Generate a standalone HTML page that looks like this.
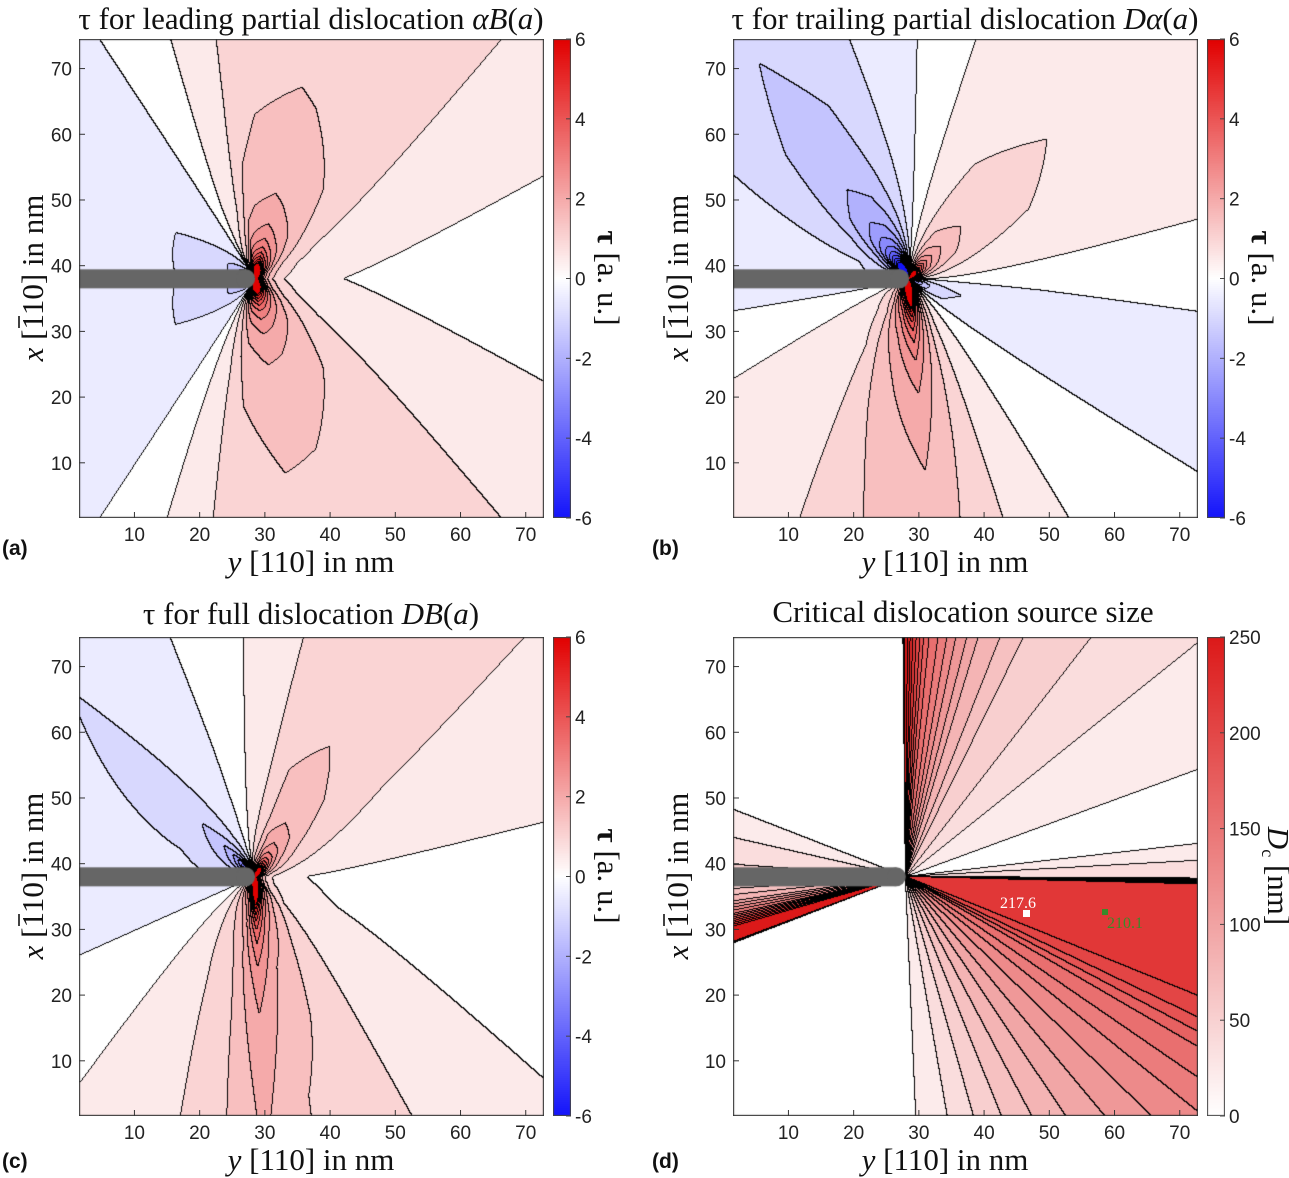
<!DOCTYPE html>
<html><head><meta charset="utf-8">
<style>
html,body{margin:0;padding:0;background:#fff;}
#root{position:relative;width:1289px;height:1178px;overflow:hidden;background:#fff;}
canvas{position:absolute;}
svg{position:absolute;left:0;top:0;}
.tk{font-family:"Liberation Sans",sans-serif;font-size:19px;fill:#222;}
.lab{font-family:"Liberation Serif",serif;font-size:31px;fill:#111;}
.pl{font-family:"Liberation Sans",sans-serif;font-size:21px;font-weight:bold;fill:#111;}
</style></head><body>
<div id="root">
<canvas id="ca" width="465" height="479" style="left:79px;top:39px"></canvas>
<canvas id="cb" width="465" height="479" style="left:733px;top:39px"></canvas>
<canvas id="cc" width="465" height="479" style="left:79px;top:637px"></canvas>
<canvas id="cd" width="465" height="479" style="left:733px;top:637px"></canvas>
<canvas id="bar1" width="18" height="479" style="left:553px;top:39px"></canvas>
<canvas id="bar2" width="18" height="479" style="left:1207px;top:39px"></canvas>
<canvas id="bar3" width="18" height="479" style="left:553px;top:637px"></canvas>
<canvas id="bar4" width="18" height="479" style="left:1207px;top:637px"></canvas>
<svg id="ov" width="1289" height="1178">
<g>
<text class="lab" x="311" y="29" text-anchor="middle">τ for leading partial dislocation <tspan font-style="italic">αB</tspan>(<tspan font-style="italic">a</tspan>)</text>
<text class="lab" x="311" y="572" text-anchor="middle"><tspan font-style="italic">y</tspan> [110] in nm</text>
<g transform="translate(43,278) rotate(-90)">
<text class="lab" x="0" y="0" text-anchor="middle"><tspan font-style="italic">x</tspan> [110] in nm</text>
<line x1="-50" x2="-38" y1="-24" y2="-24" stroke="#111" stroke-width="1.6"/></g>
<text class="lab" transform="translate(598,278) rotate(90)" text-anchor="middle"><tspan font-weight="bold">τ</tspan> [a. u.]</text>
<text class="pl" x="2" y="555">(a)</text>
</g>
<g>
<text class="lab" x="965" y="29" text-anchor="middle">τ for trailing partial dislocation <tspan font-style="italic">Dα</tspan>(<tspan font-style="italic">a</tspan>)</text>
<text class="lab" x="945" y="572" text-anchor="middle"><tspan font-style="italic">y</tspan> [110] in nm</text>
<g transform="translate(688,278) rotate(-90)">
<text class="lab" x="0" y="0" text-anchor="middle"><tspan font-style="italic">x</tspan> [110] in nm</text>
<line x1="-50" x2="-38" y1="-24" y2="-24" stroke="#111" stroke-width="1.6"/></g>
<text class="lab" transform="translate(1252,278) rotate(90)" text-anchor="middle"><tspan font-weight="bold">τ</tspan> [a. u.]</text>
<text class="pl" x="652" y="555">(b)</text>
</g>
<g>
<text class="lab" x="311" y="624" text-anchor="middle">τ for full dislocation <tspan font-style="italic">DB</tspan>(<tspan font-style="italic">a</tspan>)</text>
<text class="lab" x="311" y="1170" text-anchor="middle"><tspan font-style="italic">y</tspan> [110] in nm</text>
<g transform="translate(43,876) rotate(-90)">
<text class="lab" x="0" y="0" text-anchor="middle"><tspan font-style="italic">x</tspan> [110] in nm</text>
<line x1="-50" x2="-38" y1="-24" y2="-24" stroke="#111" stroke-width="1.6"/></g>
<text class="lab" transform="translate(598,876) rotate(90)" text-anchor="middle"><tspan font-weight="bold">τ</tspan> [a. u.]</text>
<text class="pl" x="2" y="1168">(c)</text>
</g>
<g>
<text class="lab" x="963" y="622" text-anchor="middle">Critical dislocation source size</text>
<text class="lab" x="945" y="1170" text-anchor="middle"><tspan font-style="italic">y</tspan> [110] in nm</text>
<g transform="translate(688,876) rotate(-90)">
<text class="lab" x="0" y="0" text-anchor="middle"><tspan font-style="italic">x</tspan> [110] in nm</text>
<line x1="-50" x2="-38" y1="-24" y2="-24" stroke="#111" stroke-width="1.6"/></g>
<text class="lab" transform="translate(1268,876) rotate(90)" text-anchor="middle"><tspan font-style="italic">D</tspan><tspan font-size="18" dy="6">c</tspan><tspan dy="-6"> [nm]</tspan></text>
<text class="pl" x="652" y="1168">(d)</text>
</g>
<g id="axesg"></g>
<g>
<rect x="1023" y="910" width="7" height="7" fill="#fff"/>
<text x="1000" y="908" font-family="Liberation Serif,serif" font-size="16" fill="#fff">217.6</text>
<rect x="1102" y="909" width="6" height="6" fill="#3a8a2a"/>
<text x="1107" y="928" font-family="Liberation Serif,serif" font-size="16" fill="#3a8a2a">210.1</text>
</g>
</svg>
</div>
<script>
// ---- data arrays: angle (deg, from crack tip), far-field level and near-tip amplitude ----
const angA = [-180,-150,-124,-115,-105,-100,-95,-81,-70,-52,-30,-20,0,20,30,52,70,76,90,96,100,105,115,124,150,180];
const farA = [-0.5,-0.5,-0.26,0,0.26,0.5,0.74,0.85,0.85,0.78,0.35,0.17,0,0.17,0.35,0.78,0.85,0.85,0.85,0.74,0.5,0.26,0,-0.26,-0.5,-0.5];
const nearA= [-0.3,-0.35,-0.1,0.3,0.7,0.9,1.0,1.2,1.1,0.8,0.45,0.4,0.34,0.4,0.45,0.8,1.1,1.2,1.0,0.9,0.7,0.5,0.3,-0.1,-0.35,-0.3];
const angB = [-180,-171,-160,-148,-135,-123,-116,-108,-100,-85,-74,-67,-60,-45,-31,-18,-5,0,16,30,45,60,70,84,88,93,100,109,115,125,135,145,161,180];
const farB = [-0.4,-0.25,0,0.25,0.15,0.25,0.5,0.75,0.95,1.0,0.75,0.5,0.25,0,-0.25,-0.4,-0.2,0,0.25,0.42,0.45,0.4,0.25,0,-0.2,-0.3,-0.4,-0.6,-0.8,-0.9,-0.8,-0.6,-0.5,-0.4];
const nearB= [-0.2,-0.1,0,0.2,0.4,0.6,0.8,1.0,1.2,2.2,1.2,0.7,0.4,0,-0.3,-0.3,-0.1,0.1,0.4,0.7,0.9,0.7,0.4,0,-0.2,-0.4,-0.8,-1.2,-1.3,-1.4,-1.2,-0.7,-0.2,-0.2];
const angC = [-180,-170,-156,-140,-126,-115,-105,-100,-88,-76,-68,-61,-52,-42,-20,0,14,35,48,55,60,72,75,82,90,100,108,118,135,160,180];
const farC = [-0.45,-0.4,-0.25,0,0.25,0.4,0.6,0.75,1.3,0.9,0.9,0.75,0.5,0.25,0.1,0,0.25,0.5,0.75,0.85,0.9,0.9,0.75,0.5,0.25,0,-0.2,-0.3,-0.55,-0.5,-0.45];
const nearC= [-0.2,-0.1,0,0.2,0.4,0.6,0.8,1.0,2.0,1.2,0.8,0.6,0.5,0.3,0.2,0.2,0.3,0.6,0.8,0.8,0.8,0.6,0.5,0.4,0.3,0.1,-0.1,-0.3,-0.8,-0.3,-0.2];
const angD = [-180,-176,-172,-168,-164,-159.5,-159,-96,-90,-80,-70,-60,-50,-40,-30,-24,-20,-1.5,-0.3,2.5,4.4,8.4,20,32,45,52,63.6,73,78,85,88,89.5,90.2,90.6,152,157,165,172,180];
const valD = [50,60,90,150,255,255,0,0,10,30,55,80,105,130,165,205,215,215,40,35,20,10,15,25,35,45,60,90,120,170,220,255,255,0,0,12,25,40,50];
const xTicks = [10,20,30,40,50,60,70];
const yTicks = [10,20,30,40,50,60,70];
const cbTicksTau = [-6,-4,-2,0,2,4,6];
const cbTicksD = [0,50,100,150,200,250];
const tip = [28.5,38];
const tipD = [28,38];

const X0=1.5,X1=72.8,Y0=1.6,Y1=74.5,W=465,H=479;
const sx=v=>(v-X0)/(X1-X0)*W, sy=v=>(Y1-v)/(Y1-Y0)*H;

function interp(angs,vals,t){
  for(let i=0;i<angs.length-1;i++){
    if(t>=angs[i]&&t<=angs[i+1]){const f=(t-angs[i])/(angs[i+1]-angs[i]||1);return vals[i]+f*(vals[i+1]-vals[i]);}
  }
  return vals[vals.length-1];
}
function tauColor(v){
  const t=Math.max(-1,Math.min(1,v/6));
  if(t>=0) return [255-30*t,255*(1-t),255*(1-t)];
  const s=-t; return [255*(1-s)+20*s,255*(1-s)+20*s,255-5*s];
}
function dColor(v){const t=Math.max(0,Math.min(1,v/250));return [255-35*t,255*(1-t)+25*t,255*(1-t)+25*t];}

function drawField(id,fn,step,off,colorFn,fillFn,cx,cy){
  const cv=document.getElementById(id),ctx=cv.getContext('2d');
  const img=ctx.createImageData(W,H);const band=new Int32Array(W*H);
  for(let py=0;py<H;py++)for(let px=0;px<W;px++){
    const x=X0+(px+0.5)/W*(X1-X0), y=Y1-(py+0.5)/H*(Y1-Y0);
    band[py*W+px]=Math.floor((fn(x,y)+off)/step);
  }
  for(let py=0;py<H;py++)for(let px=0;px<W;px++){
    const i=py*W+px,b=band[i];
    let c=colorFn(fillFn(b));
    if((px<W-1&&band[i+1]!==b)||(py<H-1&&band[i+W]!==b)) c=[0,0,0];
    img.data[i*4]=c[0];img.data[i*4+1]=c[1];img.data[i*4+2]=c[2];img.data[i*4+3]=255;
  }
  ctx.putImageData(img,0,0);
  ctx.fillStyle='#666';
  const bx=sx(cx), by=sy(cy), hh=9.5;
  ctx.fillRect(0,by-hh,bx-hh,2*hh);
  ctx.beginPath();ctx.arc(bx-hh,by,hh,0,Math.PI*2);ctx.fill();
  ctx.strokeStyle='#333';ctx.lineWidth=1.2;ctx.strokeRect(0.5,0.5,W-1,H-1);
}
function tauField(angs,far,near,c){
  return (x,y)=>{const dx=x-c[0],dy=y-c[1];const r=Math.max(0.3,Math.hypot(dx,dy));
    const th=Math.atan2(dy,dx)*180/Math.PI;
    return Math.max(-6,Math.min(6,interp(angs,far,th)+interp(angs,near,th)*(10/r)));};
}
const tauFill=b=>b*0.5;
drawField('ca',tauField(angA,farA,nearA,tip),0.5,0.25,tauColor,tauFill,tip[0],tip[1]);
drawField('cb',tauField(angB,farB,nearB,tip),0.5,0.25,tauColor,tauFill,tip[0],tip[1]);
drawField('cc',tauField(angC,farC,nearC,tip),0.5,0.25,tauColor,tauFill,tip[0],tip[1]);
drawField('cd',(x,y)=>{const th=Math.atan2(y-tipD[1],x-tipD[0])*180/Math.PI;return Math.min(259,interp(angD,valD,th));},15,0.001,dColor,b=>b<=0?0:b*15+7,tipD[0],tipD[1]);

function drawBar(id,fn,lo,hi){
  const cv=document.getElementById(id),ctx=cv.getContext('2d');
  for(let py=0;py<H;py++){const v=hi-(py+0.5)/H*(hi-lo);const c=fn(v);
    ctx.fillStyle='rgb('+c.map(Math.round).join(',')+')';ctx.fillRect(0,py,18,1);}
  ctx.strokeStyle='#444';ctx.lineWidth=1;ctx.strokeRect(0.5,0.5,17,H-1);
}
drawBar('bar1',tauColor,-6,6);drawBar('bar2',tauColor,-6,6);drawBar('bar3',tauColor,-6,6);drawBar('bar4',dColor,0,250);

const NS='http://www.w3.org/2000/svg',g=document.getElementById('axesg');
function el(tag,attrs,txt){const e=document.createElementNS(NS,tag);for(const k in attrs)e.setAttribute(k,attrs[k]);if(txt!==undefined)e.textContent=txt;g.appendChild(e);return e;}
const panels=[[79,39],[733,39],[79,637],[733,637]];
panels.forEach((p,pi)=>{
  const ox=p[0],oy=p[1];
  xTicks.forEach(t=>{
    const x=ox+sx(t);
    const ln=el('line',{x1:x,x2:x,y1:oy+H,y2:oy+H-6,stroke:'#333','stroke-width':1});
    
    
    const tx=el('text',{x:x,y:oy+H+23,'text-anchor':'middle','class':'tk'},String(t));
    
    
  });
  yTicks.forEach(t=>{
    const y=oy+sy(t);
    const ln=el('line',{x1:ox,x2:ox+6,y1:y,y2:y,stroke:'#333','stroke-width':1});
    
    
    const tx=el('text',{x:ox-7,y:y+7,'text-anchor':'end','class':'tk'},String(t));
    
    
  });
  const ticks=pi===3?cbTicksD:cbTicksTau, lo=pi===3?0:-6, hi=pi===3?250:6;
  const cbx=ox+474;
  ticks.forEach(t=>{
    const y=oy+(hi-t)/(hi-lo)*H;
    const ln=el('line',{x1:cbx+18,x2:cbx+13,y1:y,y2:y,stroke:'#444','stroke-width':1});
    
    
    const tx=el('text',{x:cbx+22,y:y+7,'class':'tk'},String(t));
    
    
  });
});
</script>
</body></html>
